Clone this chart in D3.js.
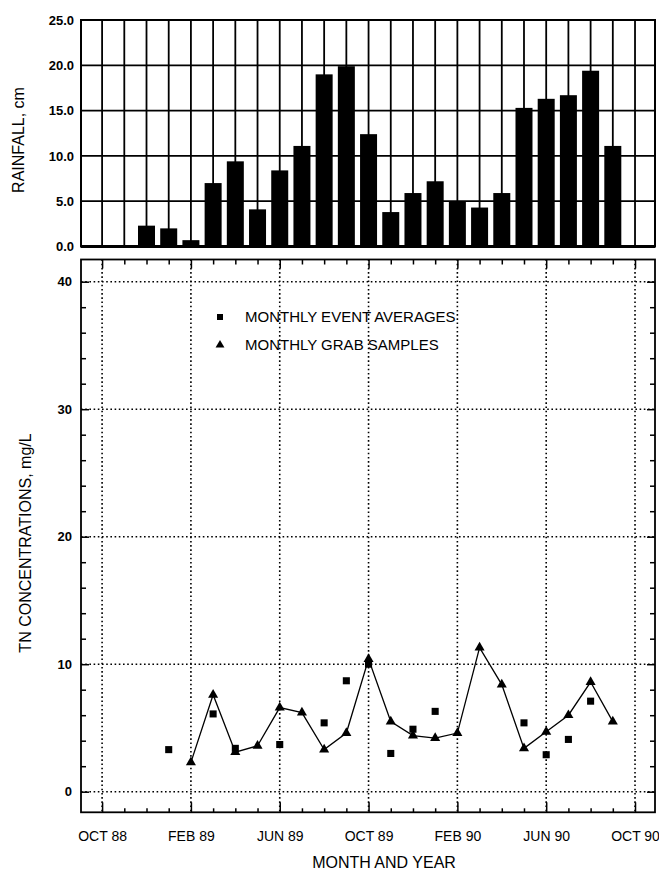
<!DOCTYPE html>
<html>
<head>
<meta charset="utf-8">
<script src="https://cdn.jsdelivr.net/npm/d3@7/dist/d3.min.js"></script>
<style>
body { margin: 0; background: #fff; }
text { font-family: 'Liberation Sans', Arial, Helvetica, sans-serif; fill: #000; }
</style>
</head>
<body>
<div id="chart"></div>
<script>
// month slots along the shared time axis
var months = ['OCT 88', 'NOV 88', 'DEC 88', 'JAN 89', 'FEB 89', 'MAR 89', 'APR 89', 'MAY 89', 'JUN 89',
	'JUL 89', 'AUG 89', 'SEP 89', 'OCT 89', 'NOV 89', 'DEC 89', 'JAN 90', 'FEB 90', 'MAR 90', 'APR 90',
	'MAY 90', 'JUN 90', 'JUL 90', 'AUG 90', 'SEP 90', 'OCT 90']
var tickLabels = ['OCT 88', 'FEB 89', 'JUN 89', 'OCT 89', 'FEB 90', 'JUN 90', 'OCT 90']

// rainfall, cm
var rainMonths = ['DEC 88', 'JAN 89', 'FEB 89', 'MAR 89', 'APR 89', 'MAY 89', 'JUN 89', 'JUL 89', 'AUG 89',
	'SEP 89', 'OCT 89', 'NOV 89', 'DEC 89', 'JAN 90', 'FEB 90', 'MAR 90', 'APR 90', 'MAY 90', 'JUN 90',
	'JUL 90', 'AUG 90', 'SEP 90']
var rainfall = [2.3, 2.0, 0.7, 7.0, 9.4, 4.1, 8.4, 11.1, 19.0, 19.9, 12.4, 3.8, 5.9, 7.2, 5.0, 4.3, 5.9,
	15.3, 16.3, 16.7, 19.4, 11.1]
var rainTicks = [0, 5, 10, 15, 20, 25]

// TN, mg/L
var grabMonths = ['FEB 89', 'MAR 89', 'APR 89', 'MAY 89', 'JUN 89', 'JUL 89', 'AUG 89', 'SEP 89', 'OCT 89',
	'NOV 89', 'DEC 89', 'JAN 90', 'FEB 90', 'MAR 90', 'APR 90', 'MAY 90', 'JUN 90', 'JUL 90', 'AUG 90', 'SEP 90']
var grabSamples = [2.3, 7.6, 3.1, 3.6, 6.6, 6.2, 3.3, 4.6, 10.4, 5.5, 4.4, 4.2, 4.6, 11.3, 8.4, 3.4, 4.7,
	6.0, 8.6, 5.5]
var eventMonths = ['JAN 89', 'MAR 89', 'APR 89', 'JUN 89', 'AUG 89', 'SEP 89', 'OCT 89', 'NOV 89', 'DEC 89',
	'JAN 90', 'MAY 90', 'JUN 90', 'JUL 90', 'AUG 90']
var eventAverages = [3.3, 6.1, 3.4, 3.7, 5.4, 8.7, 10.0, 3.0, 4.9, 6.3, 5.4, 2.9, 4.1, 7.1]
var tnTicks = [0, 10, 20, 30, 40]
var tnMinor = [2, 4, 6, 8, 12, 14, 16, 18, 22, 24, 26, 28, 32, 34, 36, 38]

var W = 659, H = 876
var left = 81, right = 655
var top1 = 20, bottom1 = 246.5
var top2 = 259.5, bottom2 = 812.3

var svg = d3.select('#chart').append('svg')
	.attr('width', W).attr('height', H)
	.style('display', 'block')

var x = d3.scaleLinear().domain([-0.95, 24.9]).range([left, right])
var mi = function(m) { return months.indexOf(m) }
var yRain = d3.scaleLinear().domain([0, 25]).range([bottom1, top1])
var yTn = d3.scaleLinear().domain([0, 40]).range([791.7, 281.7])

// ---------- rainfall panel ----------
var g1 = svg.append('g')

g1.selectAll('.vgrid').data(months).enter().append('line')
	.attr('x1', function(d) { return x(mi(d)) }).attr('x2', function(d) { return x(mi(d)) })
	.attr('y1', top1).attr('y2', bottom1)
	.attr('stroke', '#000').attr('stroke-width', 1.8)

g1.selectAll('.hgrid').data(rainTicks.slice(1, 5)).enter().append('line')
	.attr('x1', left).attr('x2', right)
	.attr('y1', function(d) { return yRain(d) }).attr('y2', function(d) { return yRain(d) })
	.attr('stroke', '#000').attr('stroke-width', 1.8)

var bw = 17
g1.selectAll('.bar').data(rainfall).enter().append('rect')
	.attr('x', function(d, i) { return x(mi(rainMonths[i])) - bw / 2 })
	.attr('width', bw)
	.attr('y', function(d) { return yRain(d) })
	.attr('height', function(d) { return yRain(0) - yRain(d) })
	.attr('fill', '#000')

g1.append('rect')
	.attr('x', left).attr('y', top1).attr('width', right - left).attr('height', bottom1 - top1)
	.attr('fill', 'none').attr('stroke', '#000').attr('stroke-width', 2)
g1.append('line')
	.attr('x1', left).attr('x2', right).attr('y1', bottom1).attr('y2', bottom1)
	.attr('stroke', '#000').attr('stroke-width', 2.8)

g1.append('g')
	.attr('transform', 'translate(' + left + ',0)')
	.call(d3.axisLeft(yRain).tickValues(rainTicks).tickFormat(d3.format('.1f')).tickSize(0).tickPadding(7))
	.call(function(a) { a.select('.domain').remove() })
	.selectAll('text').style('font-size', '13px').style('font-weight', 'bold')

g1.append('text')
	.attr('transform', 'translate(24,140) rotate(-90)')
	.attr('text-anchor', 'middle')
	.style('font-size', '16px')
	.text('RAINFALL, cm')

// ---------- TN panel ----------
var g2 = svg.append('g')

var dotted = function(sel) {
	sel.attr('stroke', '#000').attr('stroke-width', 1.6).attr('stroke-dasharray', '1.6,2.6').attr('fill', 'none')
}

g2.selectAll('.vdot').data(tickLabels).enter().append('line')
	.attr('x1', function(d) { return x(mi(d)) }).attr('x2', function(d) { return x(mi(d)) })
	.attr('y1', top2).attr('y2', bottom2)
	.call(dotted)
g2.selectAll('.hdot').data(tnTicks).enter().append('line')
	.attr('x1', left).attr('x2', right)
	.attr('y1', function(d) { return yTn(d) }).attr('y2', function(d) { return yTn(d) })
	.call(dotted)

// month ticks along bottom and top
var minorMonths = months.filter(function(m) { return tickLabels.indexOf(m) < 0 })

g2.append('g').attr('transform', 'translate(0,' + bottom2 + ')')
	.call(d3.axisBottom(x).tickValues(minorMonths.map(mi)).tickSize(-4).tickFormat(''))
	.call(function(a) { a.select('.domain').remove() })
g2.append('g').attr('transform', 'translate(0,' + bottom2 + ')')
	.call(d3.axisBottom(x).tickValues(tickLabels.map(mi)).tickSize(-10).tickPadding(19)
		.tickFormat(function(d) { return months[d] }))
	.call(function(a) { a.select('.domain').remove() })
	.selectAll('text').style('font-size', '14px')
g2.append('g').attr('transform', 'translate(0,' + top2 + ')')
	.call(d3.axisTop(x).tickValues(minorMonths.map(mi)).tickSize(-5).tickFormat(''))
	.call(function(a) { a.select('.domain').remove() })
g2.append('g').attr('transform', 'translate(0,' + top2 + ')')
	.call(d3.axisTop(x).tickValues(tickLabels.map(mi)).tickSize(-9).tickFormat(''))
	.call(function(a) { a.select('.domain').remove() })

// value ticks on left and right
g2.append('g').attr('transform', 'translate(' + left + ',0)')
	.call(d3.axisLeft(yTn).tickValues(tnMinor).tickSize(-5).tickFormat(''))
	.call(function(a) { a.select('.domain').remove() })
g2.append('g').attr('transform', 'translate(' + left + ',0)')
	.call(d3.axisLeft(yTn).tickValues(tnTicks).tickSize(-8).tickPadding(9))
	.call(function(a) { a.select('.domain').remove() })
	.selectAll('text').style('font-size', '13px').style('font-weight', 'bold')
g2.append('g').attr('transform', 'translate(' + right + ',0)')
	.call(d3.axisRight(yTn).tickValues(tnMinor).tickSize(-5).tickFormat(''))
	.call(function(a) { a.select('.domain').remove() })
g2.append('g').attr('transform', 'translate(' + right + ',0)')
	.call(d3.axisRight(yTn).tickValues(tnTicks).tickSize(-8).tickFormat(''))
	.call(function(a) { a.select('.domain').remove() })

g2.selectAll('.tick line').attr('stroke', '#000').attr('stroke-width', 1.5)

g2.append('rect')
	.attr('x', left).attr('y', top2).attr('width', right - left).attr('height', bottom2 - top2)
	.attr('fill', 'none').attr('stroke', '#000').attr('stroke-width', 1.8)

// grab sample line + triangles
var line = d3.line()
	.x(function(d, i) { return x(mi(grabMonths[i])) })
	.y(function(d) { return yTn(d) })
g2.append('path').datum(grabSamples)
	.attr('d', line).attr('fill', 'none').attr('stroke', '#000').attr('stroke-width', 1.3)

var tri = d3.symbol().type(d3.symbolTriangle).size(44)
g2.selectAll('.grab').data(grabSamples).enter().append('path')
	.attr('d', tri)
	.attr('transform', function(d, i) { return 'translate(' + x(mi(grabMonths[i])) + ',' + yTn(d) + ')' })
	.attr('fill', '#000')

var sq = d3.symbol().type(d3.symbolSquare).size(50)
g2.selectAll('.event').data(eventAverages).enter().append('path')
	.attr('d', sq)
	.attr('transform', function(d, i) { return 'translate(' + x(mi(eventMonths[i])) + ',' + yTn(d) + ')' })
	.attr('fill', '#000')

// legend
var legend = g2.append('g').attr('transform', 'translate(220,317)')
legend.append('path').attr('d', d3.symbol().type(d3.symbolSquare).size(36)).attr('fill', '#000')
legend.append('text').attr('x', 25).attr('y', 5).style('font-size', '15px').text('MONTHLY EVENT AVERAGES')
legend.append('path').attr('d', d3.symbol().type(d3.symbolTriangle).size(34))
	.attr('transform', 'translate(0,28)').attr('fill', '#000')
legend.append('text').attr('x', 25).attr('y', 33).style('font-size', '15px').text('MONTHLY GRAB SAMPLES')

svg.append('text')
	.attr('transform', 'translate(31,543) rotate(-90)')
	.attr('text-anchor', 'middle')
	.style('font-size', '16px')
	.text('TN CONCENTRATIONS, mg/L')

svg.append('text')
	.attr('x', 384).attr('y', 868)
	.attr('text-anchor', 'middle')
	.style('font-size', '16px')
	.text('MONTH AND YEAR')
</script>
</body>
</html>
